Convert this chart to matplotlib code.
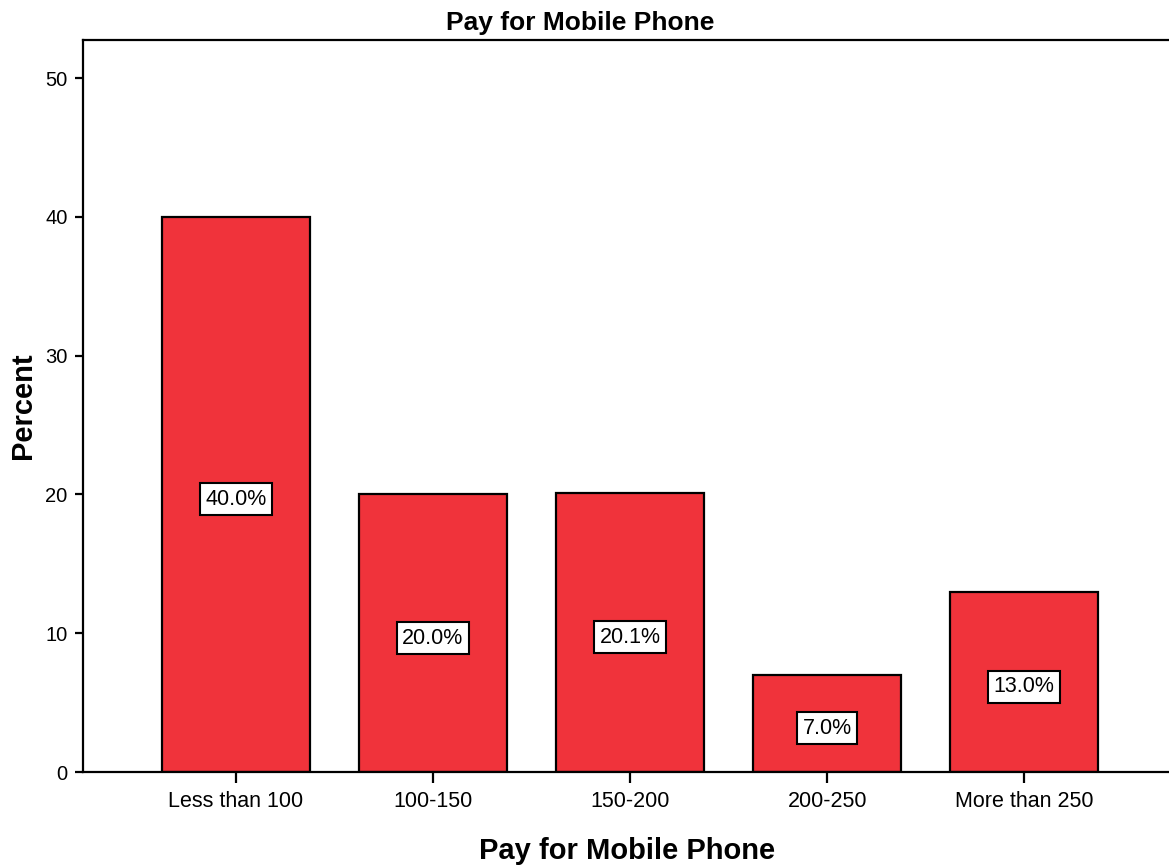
import matplotlib
matplotlib.use("Agg")

import matplotlib.pyplot as plt
import numpy as np

plt.rcParams['font.family'] = ['Liberation Sans', 'DejaVu Sans']

categorias = ["Less than 100", "100-150", "150-200", "200-250", "More than 250"]
percentuais = [40.0, 20.0, 20.1, 7.0, 13.0]
rotulos = ["40.0%", "20.0%", "20.1%", "7.0%", "13.0%"]

fig = plt.figure(figsize=(11.69, 8.65), dpi=100)
ax = fig.add_axes([83 / 1169, 93 / 865, 1089 / 1169, 732 / 865])

x = np.arange(len(categorias))
ax.bar(x, percentuais, width=0.75, color='#F0333B', edgecolor='black', linewidth=1.6, zorder=2)

# rotulos no meio de cada barra
for xi, v, r in zip(x, percentuais, rotulos):
    ax.annotate(r, (xi, v / 2), xytext=(0, -3.5), textcoords='offset points',
                ha='center', va='center', fontsize=15.5, zorder=3,
                bbox=dict(boxstyle='square,pad=0.25', facecolor='white', edgecolor='black', linewidth=1.5))

ax.set_xlim(-0.776, 4.75)
ax.set_ylim(0, 52.74)
ax.set_yticks([0, 10, 20, 30, 40, 50])
ax.set_xticks(x)
ax.set_xticklabels(categorias, fontsize=15.5)
ax.tick_params(axis='y', labelsize=14.5, length=6, width=1.6, pad=5)
ax.tick_params(axis='x', length=8, width=1.6, pad=6)

for lado in ['left', 'bottom', 'top']:
    ax.spines[lado].set_linewidth(1.6)
ax.spines['right'].set_visible(False)

ax.set_xlabel('Pay for Mobile Phone', fontsize=21, fontweight='bold', labelpad=18)
ax.set_ylabel('Percent', fontsize=21, fontweight='bold', labelpad=6)
fig.text(580 / 1169, 1 - 23 / 865, 'Pay for Mobile Phone', ha='center', va='center',
         fontsize=19, fontweight='bold')

plt.savefig('out.png', dpi=100)
